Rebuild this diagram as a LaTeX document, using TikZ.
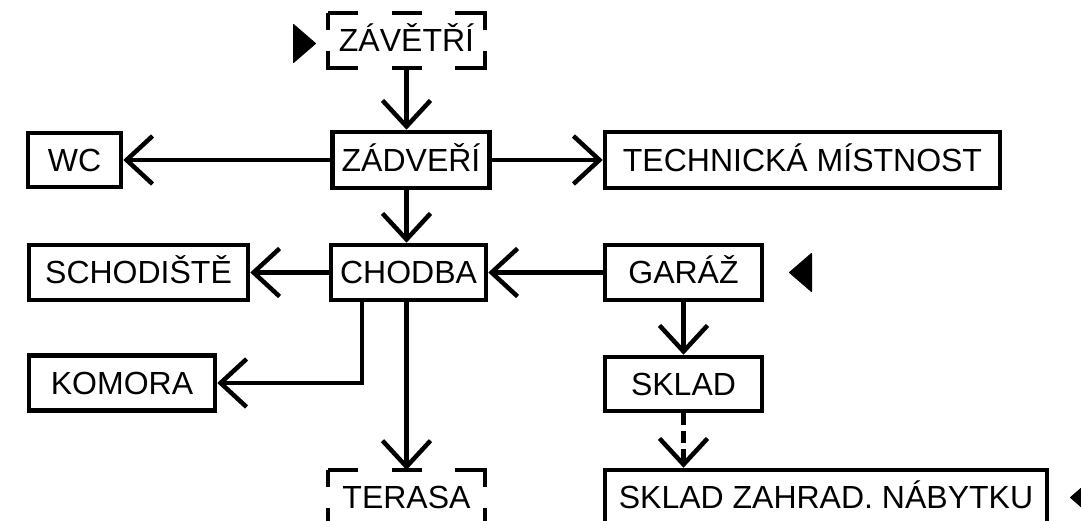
\documentclass[tikz,border=0pt]{standalone}
\usepackage{fontspec}
\setmainfont{Liberation Sans}
\usetikzlibrary{arrows.meta}
\begin{document}
\begin{tikzpicture}[x=1pt,y=-1pt,
  lbl/.style={font=\fontsize{32}{38}\selectfont, text height=22.9pt, text depth=0pt, inner sep=0pt, align=center},
  box/.style={lbl, draw, line width=4.5pt, rectangle, outer sep=2.25pt},
  dbox/.style={lbl, rectangle, outer sep=0pt, minimum width=157pt, minimum height=55pt},
  dedge/.style={line width=4.5pt, line join=miter, dash pattern=on 47pt off 33.5pt on 30pt off 33.5pt on 47pt off 21pt on 47pt off 33.5pt on 30pt off 33.5pt on 47pt off 21pt, dash phase=17pt},
  conn/.style={line width=4.5pt, -{Straight Barb[length=26pt,width=48pt]}},
  dconn/.style={conn, dash pattern=on 12pt off 6pt},
  marker/.style={fill=black, draw=black, line width=1pt, line join=round}
]
\path[use as bounding box, clip] (0,0) rectangle (1081,521);

% nodes
\node[dbox] (zavetri) at (406.5,40.5) {ZÁVĚTŘÍ};
\draw[dedge] (zavetri.north west) -- (zavetri.north east) -- (zavetri.south east) -- (zavetri.south west) -- cycle;
\node[box, minimum width=157pt, minimum height=56pt] (zadveri) at (411,160) {ZÁDVEŘÍ};
\node[box, minimum width=93pt, minimum height=54pt] (wc) at (74.5,160) {WC};
\node[box, minimum width=395pt, minimum height=56pt] (tech) at (802.5,160) {TECHNICKÁ MÍSTNOST};
\node[box, minimum width=219pt, minimum height=55pt] (schod) at (138.5,272.5) {SCHODIŠTĚ};
\node[box, minimum width=155pt, minimum height=55pt] (chodba) at (408.5,272.5) {CHODBA};
\node[box, minimum width=157pt, minimum height=55pt] (garaz) at (683.5,272.5) {GARÁŽ};
\node[box, minimum width=186pt, minimum height=55pt] (komora) at (122,383) {KOMORA};
\node[box, minimum width=157pt, minimum height=54pt] (sklad) at (683.5,384) {SKLAD};
\node[dbox] (terasa) at (406.5,497.5) {TERASA};
\draw[dedge] (terasa.north west) -- (terasa.north east) -- (terasa.south east) -- (terasa.south west) -- cycle;
\node[box, minimum width=442pt, minimum height=55pt] (skladz) at (826,497.5) {SKLAD ZAHRAD. NÁBYTKU};

% connectors
\draw[conn] (zavetri.south) -- (zavetri.south |- zadveri.north);
\draw[conn] (zadveri.west) -- (wc.east);
\draw[conn] (zadveri.east) -- (tech.west);
\draw[conn] (zadveri.south -| zavetri.south) -- (zavetri.south |- chodba.north);
\draw[conn] (chodba.west) -- (schod.east);
\draw[conn] (garaz.west) -- (chodba.east);
\draw[conn] ([xshift=-46.5pt]chodba.south) |- (komora.east);
\draw[conn] (chodba.south -| terasa.north) -- (terasa.north);
\draw[conn] (garaz.south) -- (sklad.north);
\draw[dconn] (sklad.south) -- (skladz.north -| sklad.south);

% entrance markers
\path[marker] (293.5,24.5) -- (315.5,43.5) -- (293.5,62.5) -- cycle;
\path[marker] (811.5,253.5) -- (789.5,272.5) -- (811.5,291.5) -- cycle;
\path[marker] (1092.5,478.5) -- (1070.5,497.5) -- (1092.5,516.5) -- cycle;
\end{tikzpicture}
\end{document}
